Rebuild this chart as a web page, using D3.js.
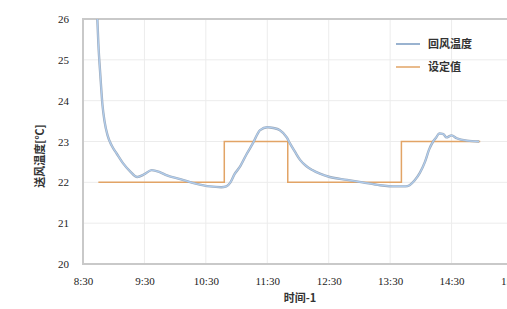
<!DOCTYPE html>
<html>
<head>
<meta charset="utf-8">
<script src="https://cdn.jsdelivr.net/npm/d3@7"></script>
<style>
  body { margin: 0; background: #fff; }
  svg { display: block; }
</style>
</head>
<body>
<svg width="507" height="309"></svg>
<script>
// return air temperature
const airTimes = ["8:44","8:45","8:47","8:49","8:51","8:54","8:58","9:03","9:09","9:16","9:23","9:30","9:37","9:45","9:52",
  "10:05","10:20","10:34","10:45","10:50","10:54","10:58","11:03","11:10","11:16","11:23","11:30","11:36",
  "11:42","11:49","11:52","11:57","12:02","12:08","12:14","12:31","12:48","13:03","13:20","13:36","13:45",
  "13:49","13:54","13:59","14:04","14:08","14:12","14:15","14:18","14:22","14:25","14:30","14:35","14:45","14:57"];
const airTemps = [26.0,25.4,24.6,23.9,23.5,23.15,22.9,22.7,22.47,22.27,22.13,22.2,22.3,22.25,22.17,
  22.08,21.97,21.9,21.88,21.9,22.0,22.2,22.37,22.7,22.96,23.28,23.35,23.33,
  23.28,23.1,22.96,22.75,22.55,22.4,22.3,22.13,22.06,22.0,21.93,21.9,21.9,
  21.93,22.05,22.23,22.5,22.8,23.0,23.1,23.2,23.18,23.1,23.15,23.08,23.02,23.0];

// set point (step line)
const setTimes = ["8:45","10:48","11:50","13:41","14:58"];
const setTemps = [22, 23, 22, 23, 23];

const xTicks = ["8:30","9:30","10:30","11:30","12:30","13:30","14:30","15:30"];
const yTicks = [20, 21, 22, 23, 24, 25, 26];

const toMin = s => { const [h, m] = s.split(":").map(Number); return h * 60 + m; };

const svg = d3.select("svg");
const pLeft = 83, pTop = 19, pRight = 513, pBottom = 264;

const x = d3.scaleLinear().domain([toMin("8:30"), toMin("15:30")]).range([pLeft, pRight]);
const y = d3.scaleLinear().domain([20, 26]).range([pBottom, pTop]);

// grid
svg.append("g").selectAll("line").data(yTicks.slice(1, -1)).join("line")
  .attr("x1", pLeft).attr("x2", pRight)
  .attr("y1", d => y(d)).attr("y2", d => y(d))
  .attr("stroke", "#ececec").attr("stroke-width", 1);
svg.append("g").selectAll("line").data(xTicks.slice(1)).join("line")
  .attr("x1", d => x(toMin(d))).attr("x2", d => x(toMin(d)))
  .attr("y1", pTop).attr("y2", pBottom)
  .attr("stroke", "#ececec").attr("stroke-width", 1);

// plot border
svg.append("path")
  .attr("d", `M${pRight},${pTop}H${pLeft}V${pBottom}H${pRight}`)
  .attr("fill", "none").attr("stroke", "#c9c9c9").attr("stroke-width", 2);

// axes labels
const xAxis = d3.axisBottom(x)
  .tickValues(xTicks.map(toMin))
  .tickFormat((d, i) => xTicks[i])
  .tickSize(0).tickPadding(13);
svg.append("g").attr("transform", `translate(0,${pBottom})`).call(xAxis)
  .call(g => g.select(".domain").remove())
  .selectAll("text")
  .style("font-family", "'Liberation Serif', serif").style("font-size", "11px").attr("fill", "#222");

const yAxis = d3.axisLeft(y).tickValues(yTicks).tickFormat(d3.format("d")).tickSize(0).tickPadding(14);
svg.append("g").attr("transform", `translate(${pLeft},0)`).call(yAxis)
  .call(g => g.select(".domain").remove())
  .selectAll("text")
  .style("font-family", "'Liberation Serif', serif").style("font-size", "11px").attr("fill", "#222");

// setpoint line
const setLine = d3.line()
  .x(d => x(toMin(d[0]))).y(d => y(d[1]))
  .curve(d3.curveStepAfter);
svg.append("path")
  .datum(d3.zip(setTimes, setTemps))
  .attr("d", setLine)
  .attr("fill", "none").attr("stroke", "#e2a466").attr("stroke-width", 1.5);

// return air temperature
const airLine = d3.line()
  .x(d => x(toMin(d[0]))).y(d => y(d[1]))
  .curve(d3.curveMonotoneX);
const airData = d3.zip(airTimes, airTemps);
svg.append("path").datum(airData).attr("d", airLine)
  .attr("fill", "none").attr("stroke", "#9eabbb").attr("stroke-width", 2.4);
svg.append("path").datum(airData).attr("d", airLine)
  .attr("fill", "none").attr("stroke", "#b0cdee").attr("stroke-width", 1.2);

// legend
const legend = svg.append("g").attr("font-family", "Noto Sans CJK SC").attr("font-size", 11)
  .attr("font-weight", "bold").attr("fill", "#333");
legend.append("line").attr("x1", 396).attr("x2", 420).attr("y1", 44).attr("y2", 44)
  .attr("stroke", "#9ab3d0").attr("stroke-width", 2);
legend.append("text").attr("x", 428).attr("y", 48).text("回风温度");
legend.append("line").attr("x1", 396).attr("x2", 420).attr("y1", 67).attr("y2", 67)
  .attr("stroke", "#e2a466").attr("stroke-width", 1.5);
legend.append("text").attr("x", 428).attr("y", 71).text("设定值");

// axis titles
svg.append("text")
  .attr("x", 300).attr("y", 302).attr("text-anchor", "middle")
  .attr("font-family", "Noto Sans CJK SC").attr("font-size", 11).attr("font-weight", "bold").attr("fill", "#333")
  .text("时间-1");
svg.append("text")
  .attr("transform", "translate(44,156) rotate(-90)").attr("text-anchor", "middle")
  .attr("font-family", "Noto Sans CJK SC").attr("font-size", 11).attr("font-weight", "bold").attr("fill", "#333")
  .text("送风温度[℃]");
</script>
</body>
</html>
